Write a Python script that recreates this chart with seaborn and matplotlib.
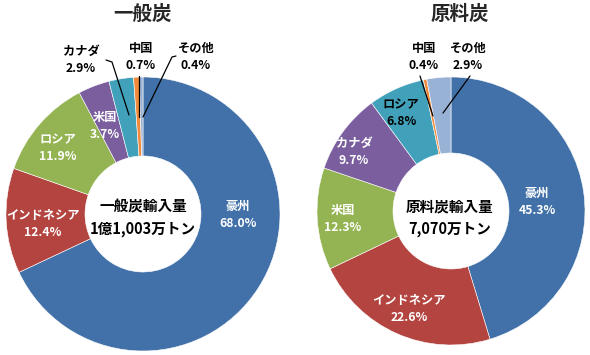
import matplotlib
matplotlib.use("Agg")
import matplotlib.pyplot as plt
from matplotlib.lines import Line2D
import seaborn as sns

sns.set_theme(style="white")
plt.rcParams['font.family'] = ['Noto Sans CJK JP', 'DejaVu Sans']

# ---- data ----
steam_countries = ["豪州", "インドネシア", "ロシア", "米国", "カナダ", "中国", "その他"]
steam_shares = [68.0, 12.4, 11.9, 3.7, 2.9, 0.7, 0.4]
coking_countries = ["豪州", "インドネシア", "米国", "カナダ", "ロシア", "中国", "その他"]
coking_shares = [45.3, 22.6, 12.3, 9.7, 6.8, 0.4, 2.9]
titles = ["一般炭", "原料炭"]
center_texts = ["一般炭輸入量\n1億1,003万トン", "原料炭輸入量\n7,070万トン"]

slice_colors = ["#4171A8", "#B3443F", "#94B453", "#7B5E9E", "#41A1BA", "#F08A3A", "#98B2D6"]

W, H = 590, 355
fig = plt.figure(figsize=(W / 100, H / 100), dpi=100)
fig.patch.set_facecolor("white")

def fx(x):
    return x / W

def fy(y):
    return 1 - y / H

R_IN = 58
pies = [((143, 214), 137), ((451, 211), 134)]

for ((cx, cy), r_out), shares in zip(pies, [steam_shares, coking_shares]):
    ax = fig.add_axes([fx(cx - r_out), fy(cy + r_out), 2 * r_out / W, 2 * r_out / H])
    ax.pie(shares, colors=slice_colors, startangle=90, counterclock=False, radius=1,
           wedgeprops=dict(width=1 - R_IN / r_out, edgecolor="white", linewidth=0.4))
    ax.set_xlim(-1, 1)
    ax.set_ylim(-1, 1)
    ax.set_aspect("equal")
    ax.axis("off")

# titles
fig.text(fx(143), fy(14), titles[0], ha="center", va="center", fontsize=14, fontweight="bold")
fig.text(fx(460), fy(14), titles[1], ha="center", va="center", fontsize=14, fontweight="bold")

# center texts
for (cx, _), txt in zip([(143, 0), (450, 0)], center_texts):
    fig.text(fx(cx), fy(218), txt, ha="center", va="center", fontsize=10.5,
             fontweight="bold", linespacing=1.45, color="black")

# label positions (pixel, text centre) for name / value
steam_label_pos = [(238, 215, "white"), (43, 224, "white"), (58, 148, "white"),
                   (105, 126, "white"), (81, 60, "black"), (141, 57, "black"), (196, 57, "black")]
coking_label_pos = [(537, 202, "white"), (409, 309, "white"), (343, 219, "white"),
                    (354, 152, "white"), (401, 113, "black"), (424, 57, "black"), (468, 57, "black")]

for names, shares, positions in [(steam_countries, steam_shares, steam_label_pos),
                                 (coking_countries, coking_shares, coking_label_pos)]:
    for name, val, (px, py, col) in zip(names, shares, positions):
        fig.text(fx(px), fy(py), f"{name}\n{val:.1f}%", ha="center", va="center",
                 fontsize=8.8, fontweight="bold", color=col, linespacing=1.45)

# leader lines (pixel coordinates)
leaders = [
    [(106, 60), (112, 62), (129, 115)],
    [(139, 76), (139, 117)],
    [(176, 56), (172, 57), (143, 117)],
    [(420, 76), (433, 116)],
    [(470, 76), (443, 113)],
]
for pts in leaders:
    xs = [fx(p[0]) for p in pts]
    ys = [fy(p[1]) for p in pts]
    fig.add_artist(Line2D(xs, ys, color="black", linewidth=0.9, transform=fig.transFigure))

fig.savefig("out.png", dpi=100, facecolor="white")
